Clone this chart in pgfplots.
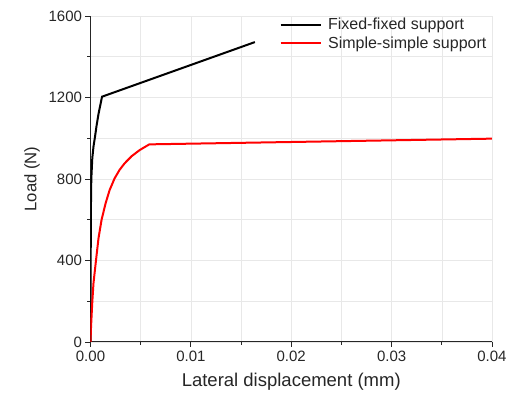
\documentclass[border=0pt]{standalone}
\usepackage{pgfplots}
\pgfplotsset{compat=1.18}
\usepackage{fontspec}
\setmainfont{Liberation Sans}
\begin{document}
\begin{tikzpicture}
\begin{axis}[
  scale only axis,
  width=401.5pt, height=326pt,
  xmin=0, xmax=0.04, ymin=0, ymax=1600,
  axis x line*=bottom, axis y line*=left,
  axis line style={line width=1pt, black!85},
  xtick={0,0.01,0.02,0.03,0.04},
  ytick={0,400,800,1200,1600},
  minor x tick num=1, minor y tick num=1,
  tick align=outside,
  major tick length=5pt, minor tick length=3pt,
  tick style={line width=0.8pt, black!85},
  grid=both,
  major grid style={gray!18, line width=0.6pt},
  minor grid style={gray!18, line width=0.6pt},
  /pgf/number format/assume math mode=true,
  xticklabel style={/pgf/number format/.cd, fixed, fixed zerofill, precision=2},
  scaled x ticks=false,
  yticklabel style={/pgf/number format/1000 sep={}},
  ticklabel style={font=\fontsize{15}{18}\selectfont, text=black!85},
  xlabel={Lateral displacement (mm)},
  ylabel={Load (N)},
  xlabel style={font=\fontsize{18.5}{21}\selectfont, text=black!85, yshift=-5pt},
  ylabel style={font=\fontsize{16.7}{20}\selectfont, text=black!85, yshift=2pt},
  legend style={draw=none, fill=none, at={(0.463,1.005)}, anchor=north west,
    font=\fontsize{16}{18}\selectfont, text=black!85, row sep=2.5pt,
    nodes={inner sep=1.5pt}},
  legend cell align=left,
  legend image code/.code={\draw[#1] (0pt,0pt) -- (40pt,0pt); \path (45pt,0pt);},
]
\addplot[black, line width=2pt] coordinates {
(0,0) (0.00002,400) (0.00004,650) (0.00008,800) (0.00018,903) (0.0003,960) (0.00045,1008) (0.0006,1060) (0.0008,1120) (0.00115,1204) (0.01638,1472)
};
\addlegendentry{Fixed-fixed support}
\addplot[red, line width=2pt] coordinates {
(0,0) (0.00005,70) (0.0001,120) (0.00018,198) (0.0003,290) (0.00055,402) (0.0008,510) (0.0011,599) (0.0015,680) (0.0019,745) (0.0024,803) (0.0029,845) (0.0034,877) (0.0041,912) (0.0049,942) (0.00586,970) (0.04,998)
};
\addlegendentry{Simple-simple support}
\end{axis}
\path (current axis.south west) ++(-90.5pt,-59pt) rectangle ++(512pt,401pt);
\end{tikzpicture}
\end{document}
